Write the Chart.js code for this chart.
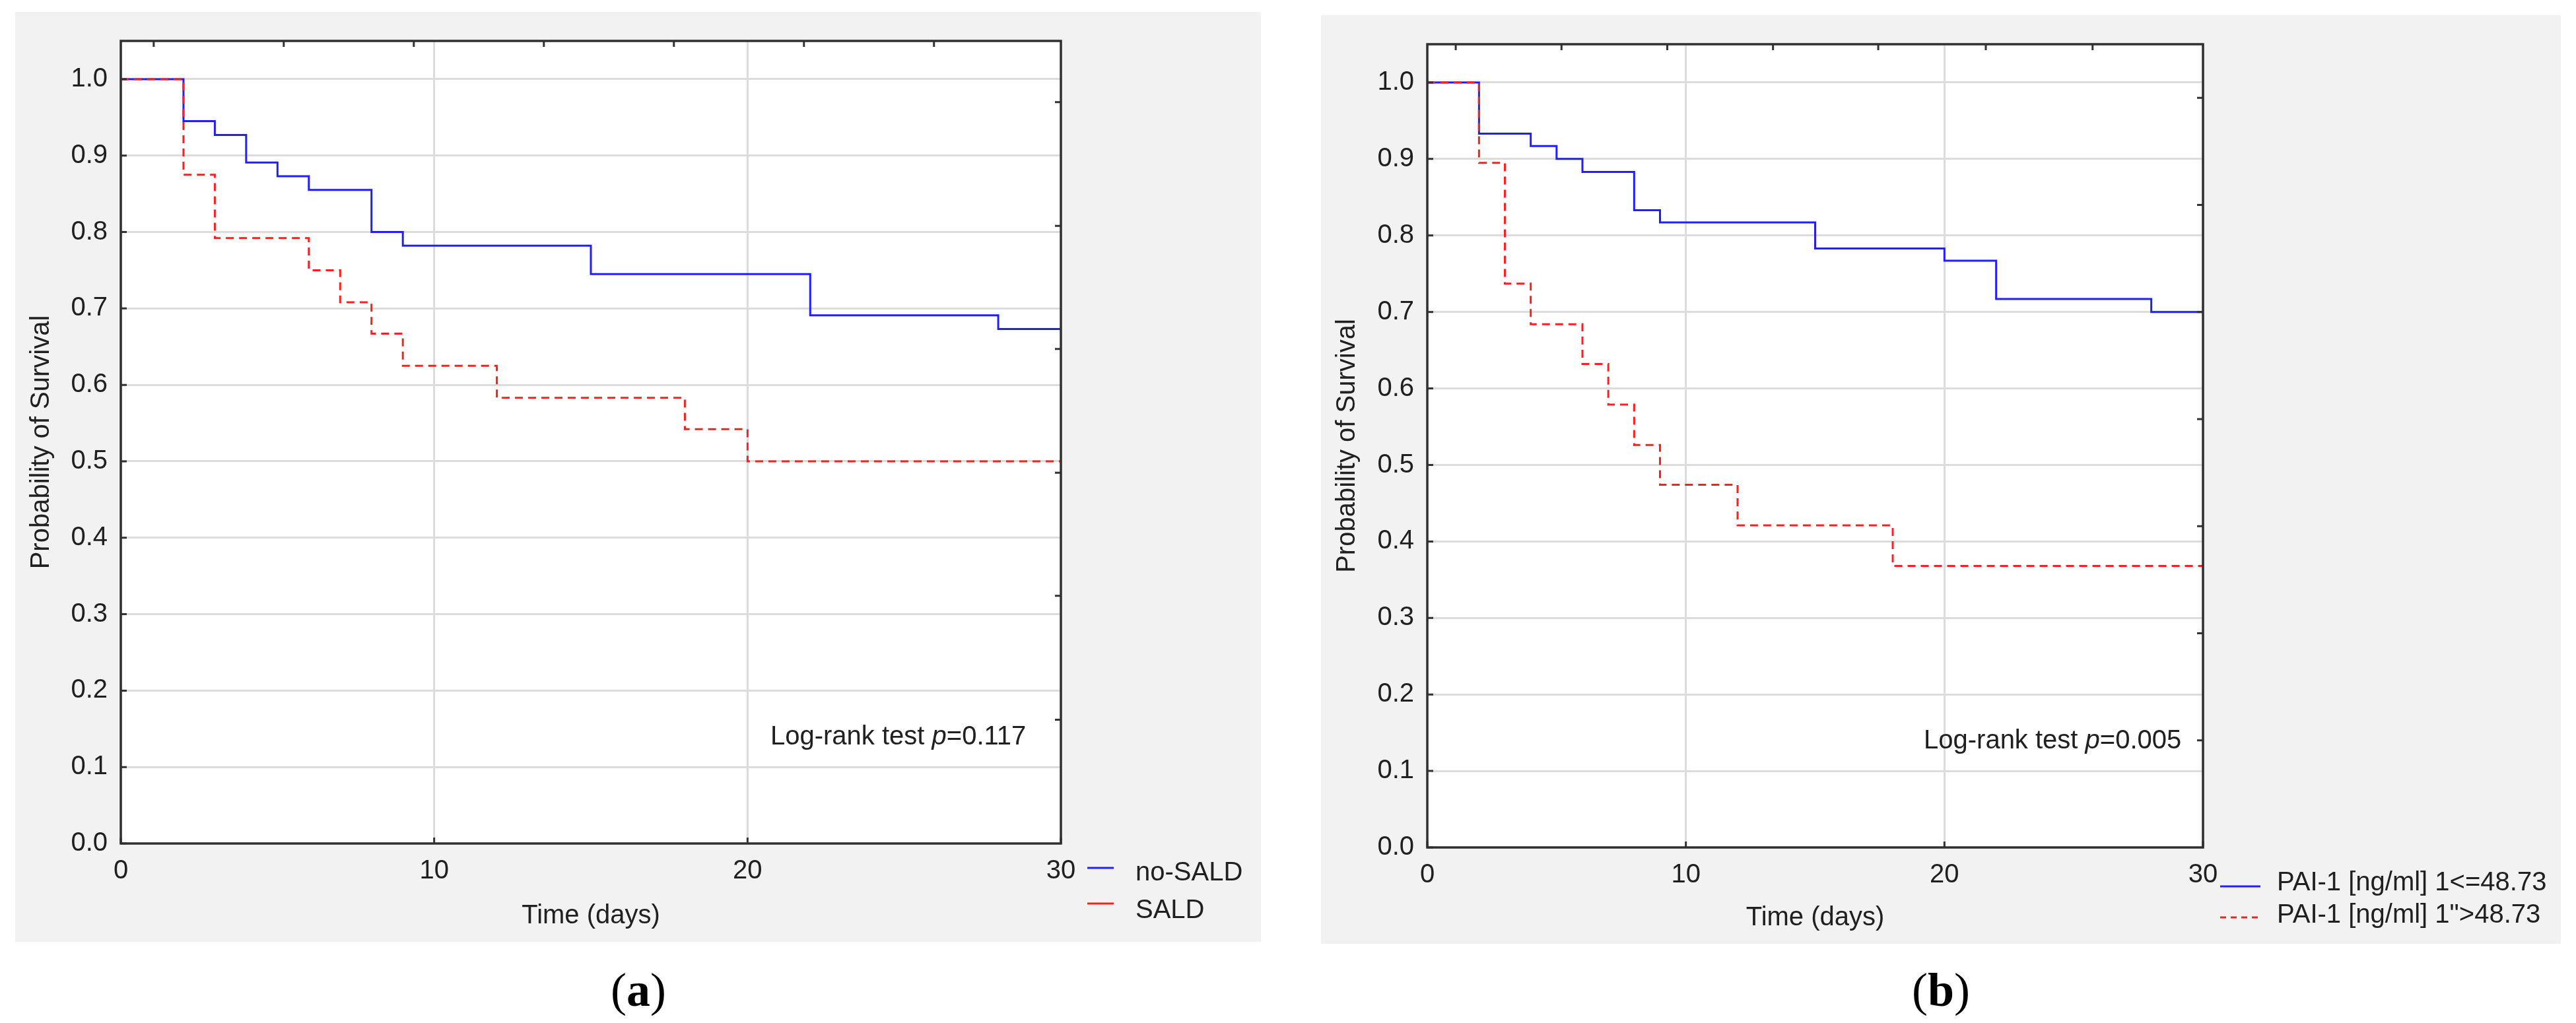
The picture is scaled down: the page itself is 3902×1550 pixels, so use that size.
<!DOCTYPE html>
<html><head><meta charset="utf-8">
<script src="https://cdn.jsdelivr.net/npm/chart.js@4.4.1/dist/chart.umd.min.js"></script>
<style>
html,body{margin:0;padding:0;background:#fff;width:3902px;height:1550px;overflow:hidden;}
body{position:relative;}
.panel{position:absolute;background:#f2f2f2;}
.panel canvas{position:absolute;left:0;top:0;}
.cap{position:absolute;font-family:"Liberation Serif","Times New Roman",serif;font-size:72px;color:#000;transform:translate(-50%,-50%);white-space:nowrap;line-height:1;}
.cap b{font-weight:bold;}
</style></head><body>
<div class="panel" style="left:23px;top:18px;width:1887px;height:1409px;"><canvas id="ca" width="1887" height="1409"></canvas></div>
<div class="panel" style="left:2001px;top:23px;width:1878px;height:1407px;"><canvas id="cb" width="1878" height="1407"></canvas></div>
<div class="cap" style="left:967px;top:1500px;">(<b>a</b>)</div>
<div class="cap" style="left:2940px;top:1500px;">(<b>b</b>)</div>
<script>
// ---------- data ----------
const xTickValues = [0, 10, 20, 30];
const yTickValues = [0, 0.1, 0.2, 0.3, 0.4, 0.5, 0.6, 0.7, 0.8, 0.9, 1.0];
const xTitle = 'Time (days)';
const yTitle = 'Probability of Survival';

// Panel (a)
const labelsA = ['no-SALD', 'SALD'];
const daysNoSald = [0, 2, 3, 4, 5, 6, 8, 9, 15, 22, 28, 30];
const survNoSald = [1.000, 0.945, 0.927, 0.891, 0.873, 0.855, 0.800, 0.782, 0.745, 0.691, 0.673, 0.673];
const daysSald = [0, 2, 3, 6, 7, 8, 9, 12, 18, 20, 30];
const survSald = [1.000, 0.875, 0.792, 0.750, 0.708, 0.667, 0.625, 0.583, 0.542, 0.500, 0.500];
const pValueA = '0.117';
const topTicksA = [1.05, 5.2, 9.35, 13.5, 17.65, 21.8, 25.95];
const rightTicksA = [0.162, 0.324, 0.485, 0.647, 0.808, 0.970];

// Panel (b)
const labelsB = ['PAI-1 [ng/ml] 1<=48.73', 'PAI-1 [ng/ml] 1">48.73'];
const daysPaiLow = [0, 2, 4, 5, 6, 8, 9, 15, 20, 22, 28, 30];
const survPaiLow = [1.000, 0.933, 0.917, 0.900, 0.883, 0.833, 0.817, 0.783, 0.767, 0.717, 0.700, 0.700];
const daysPaiHigh = [0, 2, 3, 4, 6, 7, 8, 9, 12, 18, 30];
const survPaiHigh = [1.000, 0.895, 0.737, 0.684, 0.632, 0.579, 0.526, 0.474, 0.421, 0.368, 0.368];
const pValueB = '0.005';
const topTicksB = [1.1, 5.19, 9.28, 13.37, 17.44, 21.6, 25.73];
const rightTicksB = [0.14, 0.28, 0.42, 0.56, 0.70, 0.84, 0.98];

// ---------- drawing ----------
const FONT = '"Liberation Sans", Arial, sans-serif';
const TXT = '#202020';
const BLUE = '#1f1fff';
const RED = '#ff1f1f';

function pts(d, s){ return d.map((t,i)=>({x:t, y:s[i]})); }

function decoPlugin(o){
  return {
    id:'kmDeco',
    beforeDraw(chart){
      const {ctx, chartArea:a} = chart;
      ctx.save(); ctx.fillStyle='#ffffff';
      ctx.fillRect(a.left, a.top, a.right-a.left, a.bottom-a.top);
      ctx.restore();
    },
    afterDatasetsDraw(chart){
      const {ctx, chartArea:a, scales:{x, y}} = chart;
      ctx.save();
      ctx.strokeStyle='#333333'; ctx.lineWidth=3; ctx.lineCap='butt';
      ctx.beginPath();
      yTickValues.forEach(v=>{const py=y.getPixelForValue(v); ctx.moveTo(a.left,py); ctx.lineTo(a.left+9,py);});
      xTickValues.forEach(v=>{const px=x.getPixelForValue(v); ctx.moveTo(px,a.bottom); ctx.lineTo(px,a.bottom-9);});
      o.top.forEach(v=>{const px=x.getPixelForValue(v); ctx.moveTo(px,a.top); ctx.lineTo(px,a.top+9);});
      o.right.forEach(v=>{const py=y.getPixelForValue(v); ctx.moveTo(a.right,py); ctx.lineTo(a.right-9,py);});
      ctx.stroke();
      ctx.lineWidth=3.5; ctx.strokeStyle='#303030';
      ctx.strokeRect(a.left, a.top, a.right-a.left, a.bottom-a.top);
      ctx.restore();
    },
    afterDraw(chart){
      const {ctx, chartArea:a, scales:{x, y}} = chart;
      ctx.save();
      // log-rank annotation
      ctx.fillStyle=TXT; ctx.textBaseline='middle'; ctx.textAlign='left';
      let px = x.getPixelForValue(o.annX), py = y.getPixelForValue(o.annY);
      const parts = [['Log-rank test ', ''], ['p', 'italic '], ['=' + o.p, '']];
      parts.forEach(([t, st])=>{ ctx.font = st + '40px ' + FONT; ctx.fillText(t, px, py); px += ctx.measureText(t).width; });
      // legend
      ctx.font = '40px ' + FONT;
      chart.data.datasets.forEach((ds, i)=>{
        const ly = a.bottom + o.legLineY[i];
        ctx.beginPath();
        ctx.strokeStyle = ds.borderColor; ctx.lineWidth = 3;
        ctx.setLineDash(o.legDash && ds.borderDash ? [9,7] : []);
        ctx.moveTo(a.right + o.legX0, ly); ctx.lineTo(a.right + o.legX1, ly);
        ctx.stroke();
        ctx.setLineDash([]);
        ctx.fillStyle = TXT;
        ctx.fillText(ds.label, a.right + o.legTextX, a.bottom + o.legTextY[i]);
      });
      ctx.restore();
    }
  };
}

function makeKM(id, o){
  return new Chart(document.getElementById(id), {
    type:'line',
    data:{datasets:[
      {label:o.labels[0], data:pts(o.d1,o.s1), borderColor:BLUE, borderWidth:3, stepped:'before',
       pointRadius:0, fill:false, order:1, borderJoinStyle:'miter', borderCapStyle:'butt'},
      {label:o.labels[1], data:pts(o.d2,o.s2), borderColor:RED, borderWidth:3, borderDash:[12,8], stepped:'before',
       pointRadius:0, fill:false, order:0, borderJoinStyle:'miter', borderCapStyle:'butt'}
    ]},
    options:{
      responsive:false, animation:false, devicePixelRatio:1,
      layout:{padding:{top:o.padTop, right:o.padRight, left:0, bottom:0}},
      plugins:{legend:{display:false}, tooltip:{enabled:false}},
      scales:{
        x:{type:'linear', position:'bottom', min:0, max:30,
           afterBuildTicks:(s)=>{ s.ticks = xTickValues.map(v=>({value:v})); },
           afterFit:(s)=>{ s.height = o.xH; },
           grid:{color:'#dcdcdc', lineWidth:3, drawTicks:false},
           border:{display:false},
           ticks:{font:{family:FONT, size:40}, color:TXT, padding:18, maxRotation:0, autoSkip:false},
           title:{display:true, text:xTitle, font:{family:FONT, size:40}, color:TXT, padding:{top:0, bottom:15}}
        },
        y:{type:'linear', position:'left', min:0, max:1.05,
           afterBuildTicks:(s)=>{ s.ticks = yTickValues.map(v=>({value:v})); },
           afterFit:(s)=>{ s.width = o.yW; },
           grid:{color:'#dcdcdc', lineWidth:3, drawTicks:false},
           border:{display:false},
           ticks:{font:{family:FONT, size:40}, color:TXT, padding:20, callback:(v)=>Number(v).toFixed(1)},
           title:{display:true, text:yTitle, font:{family:FONT, size:40}, color:TXT, padding:{top:16, bottom:0}}
        }
      }
    },
    plugins:[decoPlugin(o)]
  });
}

makeKM('ca', {labels:labelsA, d1:daysNoSald, s1:survNoSald, d2:daysSald, s2:survSald,
  padTop:35, padRight:303, yW:160, xH:149, p:pValueA, annX:20.73, annY:0.139,
  top:topTicksA, right:rightTicksA,
  legX0:40, legX1:80, legTextX:113, legLineY:[37,91], legTextY:[45,102], legDash:false});

makeKM('cb', {labels:labelsB, d1:daysPaiLow, s1:survPaiLow, d2:daysPaiHigh, s2:survPaiHigh,
  padTop:33, padRight:542, yW:161, xH:146, p:pValueB, annX:19.2, annY:0.139,
  top:topTicksB, right:rightTicksB,
  legX0:26, legX1:87, legTextX:112, legLineY:[59,106], legTextY:[54,103], legDash:true});
</script>
</body></html>
